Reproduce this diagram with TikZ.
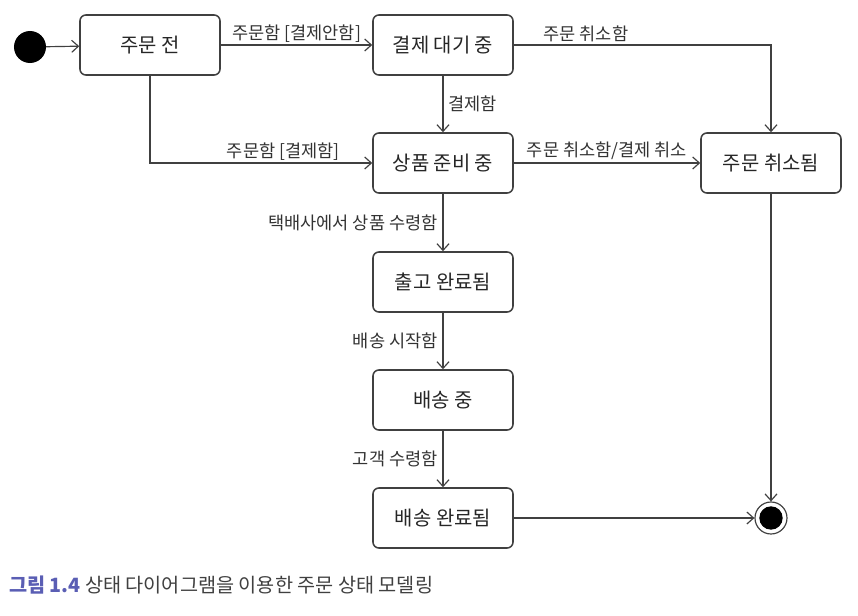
\documentclass[tikz,border=0pt]{standalone}
\usepackage{fontspec}
\newfontfamily\kr{Noto Sans CJK KR}
\usetikzlibrary{arrows.meta}

\definecolor{linegray}{HTML}{404040}
\definecolor{capblue}{HTML}{5A5EB4}

\tikzstyle{state}=[rectangle,rounded corners=5pt,draw=linegray,line width=1.3pt,minimum width=4.2cm,minimum height=1.8cm,font=\kr\fontsize{17}{20}\selectfont,text=black!85]
\tikzstyle{startdot}=[circle,fill=black,inner sep=0pt,minimum size=0.96cm]
\tikzstyle{enddot}=[circle,draw=linegray,line width=1pt,inner sep=0pt,minimum size=0.96cm]
\tikzstyle{trans}=[draw=linegray,line width=1pt,-{Straight Barb[length=2mm,width=3.6mm]}]
\tikzstyle{lbl}=[font=\kr\fontsize{15}{18}\selectfont,text=black!80,inner sep=2pt]

\begin{document}
\begin{tikzpicture}[x=0.03cm,y=-0.03cm]
	\useasboundingbox (0,0) rectangle (858,616);

	\node (start) at (30,47) [startdot] {};

		\node (before) at (150,45) [state] {주문 전};
		\node (waiting) at (443,45) [state] {결제 대기 중};
		\node (prep) at (443,163) [state] {상품 준비 중};
		\node (cancelled) at (771,163) [state] {주문 취소됨};
		\node (shipped) at (443,282) [state] {출고 완료됨};
		\node (delivering) at (443,400) [state] {배송 중};
		\node (delivered) at (443,518) [state] {배송 완료됨};

	\node (end) at (771,518) [enddot] {};
	\node (endin) at (end) [circle,fill=black,inner sep=0pt,minimum size=0.7cm] {};

	\draw [trans] (start) to (before);
	\draw [trans] (before) to node [lbl,above] {주문함 [결제안함]} (waiting);
	\draw [trans] (before.south) |- node [lbl,above,pos=0.8] {주문함 [결제함]} (prep.west);
	\draw [trans] (waiting) to node [lbl,right,xshift=2pt] {결제함} (prep);
	\draw [trans] (waiting.east) -| node [lbl,above,pos=0.14] {주문 취소함} (cancelled.north);
	\draw [trans] (prep) to node [lbl,above] {주문 취소함/결제 취소} (cancelled);
	\draw [trans] (prep) to node [lbl,left,xshift=-2pt] {택배사에서 상품 수령함} (shipped);
	\draw [trans] (shipped) to node [lbl,left,xshift=-2pt] {배송 시작함} (delivering);
	\draw [trans] (delivering) to node [lbl,left,xshift=-2pt] {고객 수령함} (delivered);
	\draw [trans] (delivered) to (end);
	\draw [trans] (cancelled) to (end);

	\node (caption) at (5,585) [anchor=west,font=\kr\fontsize{16.8}{20}\selectfont,text=black!75] {{\color{capblue}\bfseries 그림 1.4} 상태 다이어그램을 이용한 주문 상태 모델링};

\end{tikzpicture}
\end{document}
